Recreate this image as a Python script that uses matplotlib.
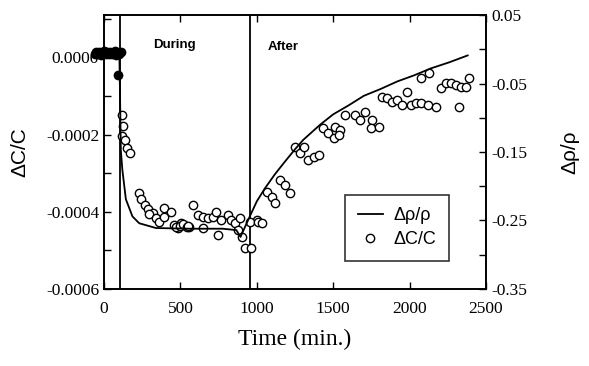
import numpy as np
import matplotlib
matplotlib.use("Agg")
import matplotlib.pyplot as plt
from matplotlib.ticker import MultipleLocator, FormatStrFormatter, FixedLocator

plt.rcParams['axes.unicode_minus'] = False

# DATA
# dC/C before the exposure (dense, reads as a black blob)
t_pre = [-60, -50, -40, -30, -20, -10, 0, 10, 20, 30, 40, 50, 60, 70, 80, 90, 100, 108, 92]
dc_pre = [1.0e-5, 1.5e-5, 0.8e-5, 1.4e-5, 0.6e-5, 1.2e-5, 1.6e-5, 0.8e-5, 1.4e-5, 1.0e-5,
          1.4e-5, 0.8e-5, 1.2e-5, 1.6e-5, 0.6e-5, 1.2e-5, 1.0e-5, 1.4e-5, -0.45e-4]

# dC/C measurements (left axis)
t_c = [118, 125, 118, 138, 151, 171,
       230, 245, 268, 290, 318, 296, 340, 362, 395, 439, 390, 461, 482, 505, 526, 559,
       470, 495, 515, 540, 550,
       581, 614, 647, 647, 680, 713, 735, 768, 746, 811, 834, 855, 888, 877, 900, 921, 965, 998,
       954, 1009, 1031, 1064, 1097, 1119, 1151, 1184, 1217, 1250, 1283, 1311, 1338, 1371, 1404,
       1436, 1469, 1502, 1513, 1546, 1535, 1579, 1645, 1678, 1711, 1755, 1744, 1798,
       1821, 1854, 1886, 1919, 1952, 1985, 2007, 2040, 2073, 2117, 2171,
       2073, 2127, 2204, 2237, 2270, 2303, 2336, 2369, 2390, 2325]
dc_c = [-1.50e-4, -1.78e-4, -2.03e-4, -2.14e-4, -2.35e-4, -2.48e-4,
        -3.50e-4, -3.68e-4, -3.82e-4, -3.93e-4, -4.02e-4, -4.06e-4, -4.17e-4, -4.26e-4,
        -3.91e-4, -4.00e-4, -4.13e-4, -4.34e-4, -4.43e-4, -4.30e-4, -4.34e-4, -4.39e-4,
        -4.40e-4, -4.37e-4, -4.32e-4, -4.40e-4, -4.36e-4,
        -3.82e-4, -4.08e-4, -4.13e-4, -4.43e-4, -4.17e-4, -4.13e-4, -4.00e-4, -4.21e-4,
        -4.60e-4, -4.08e-4, -4.21e-4, -4.30e-4, -4.17e-4, -4.47e-4, -4.64e-4, -4.94e-4,
        -4.94e-4, -4.21e-4,
        -4.26e-4, -4.26e-4, -4.29e-4, -3.48e-4, -3.61e-4, -3.78e-4, -3.18e-4, -3.30e-4,
        -3.52e-4, -2.31e-4, -2.48e-4, -2.31e-4, -2.66e-4, -2.57e-4, -2.53e-4,
        -1.84e-4, -1.97e-4, -2.09e-4, -1.79e-4, -1.88e-4, -2.01e-4, -1.49e-4, -1.49e-4,
        -1.62e-4, -1.41e-4, -1.62e-4, -1.84e-4, -1.79e-4,
        -1.02e-4, -1.06e-4, -1.15e-4, -1.10e-4, -1.23e-4, -0.89e-4, -1.23e-4, -1.19e-4,
        -1.19e-4, -1.23e-4, -1.28e-4,
        -0.54e-4, -0.41e-4, -0.80e-4, -0.67e-4, -0.67e-4, -0.71e-4, -0.76e-4, -0.76e-4,
        -0.54e-4, -1.29e-4]

# drho/rho model curve (right axis)
t_r = [100, 105, 110, 120, 143, 186, 230, 340, 559, 776, 866, 893, 954,
       1000, 1053, 1120, 1184, 1250, 1305, 1415, 1500, 1600, 1700, 1810, 1919,
       2030, 2138, 2260, 2380]
drho = [0.0, -0.07, -0.147, -0.176, -0.219, -0.244, -0.254, -0.261, -0.262, -0.262,
        -0.264, -0.274, -0.244,
        -0.222, -0.203, -0.182, -0.164, -0.146, -0.132, -0.110, -0.095, -0.082, -0.068,
        -0.058, -0.047, -0.038, -0.028, -0.019, -0.009]

phase_bounds = [105, 955]

# PLOT
fig = plt.figure(figsize=(5.89, 3.66), dpi=100)
ax = fig.add_axes([0.1766, 0.2104, 0.6486, 0.7486])
ax2 = ax.twinx()

ax.plot(t_pre, dc_pre, 'o', mfc='black', mec='black', ms=6, mew=1.0, clip_on=False, zorder=3)
ax.plot(t_c, dc_c, 'o', mfc='white', mec='black', ms=6, mew=1.0, clip_on=False,
        zorder=3, label='\u0394C/C')
ax2.plot(t_r, drho, '-', color='black', lw=1.3, label='\u0394\u03c1/\u03c1')
for xb in phase_bounds:
    ax.axvline(xb, color='black', lw=1.3)

ax.set_xlim(0, 2500)
ax.set_ylim(-0.0006, 0.00011)
ax2.set_ylim(-0.35, 0.05)

serif = 'Liberation Serif'
ax.xaxis.set_major_locator(MultipleLocator(500))
ax.yaxis.set_major_locator(MultipleLocator(0.0002))
ax.yaxis.set_minor_locator(MultipleLocator(0.0001))
ax.yaxis.set_major_formatter(FormatStrFormatter('%.4f'))
ax2.yaxis.set_major_locator(FixedLocator([0.05, -0.05, -0.15, -0.25, -0.35]))
ax2.yaxis.set_minor_locator(FixedLocator([0.0, -0.1, -0.2, -0.3]))
ax2.yaxis.set_major_formatter(FormatStrFormatter('%.2f'))

ax.tick_params(axis='x', which='both', direction='in', top=True, length=5, width=1,
               labelsize=12.5, pad=9)
ax.tick_params(axis='y', which='both', direction='in', right=False, length=5, width=1,
               labelsize=12.5)
ax2.tick_params(axis='y', which='both', direction='in', length=5, width=1, labelsize=12.5)
for lab in ax.get_xticklabels() + ax.get_yticklabels() + ax2.get_yticklabels():
    lab.set_fontfamily(serif)
for a in (ax, ax2):
    for s in a.spines.values():
        s.set_linewidth(1.2)

ax.set_xlabel('Time (min.)', fontsize=17, fontfamily=serif, labelpad=8)
ax.set_ylabel('\u0394C/C', fontsize=15, fontfamily='Liberation Sans', labelpad=12)
ax2.set_ylabel('\u0394\u03c1/\u03c1', fontsize=15, fontfamily='Liberation Sans', labelpad=24)

ax.text(460, 0.89, 'During', transform=ax.get_xaxis_transform(), ha='center', va='center',
        fontsize=9.5, fontweight='bold', fontfamily='Liberation Sans')
ax.text(1171, 0.883, 'After', transform=ax.get_xaxis_transform(), ha='center', va='center',
        fontsize=9.5, fontweight='bold', fontfamily='Liberation Sans')

h1, l1 = ax2.get_legend_handles_labels()
h2, l2 = ax.get_legend_handles_labels()
leg = ax2.legend(h1 + h2, l1 + l2, loc='lower left', bbox_to_anchor=(0.631, 0.102),
                 borderaxespad=0.0, frameon=True, fancybox=False, edgecolor='black',
                 handlelength=1.4, handletextpad=0.6, borderpad=0.7, labelspacing=0.4,
                 prop={'family': 'Liberation Sans', 'size': 13})
leg.get_frame().set_linewidth(1.2)

fig.savefig('out.png', dpi=100)
